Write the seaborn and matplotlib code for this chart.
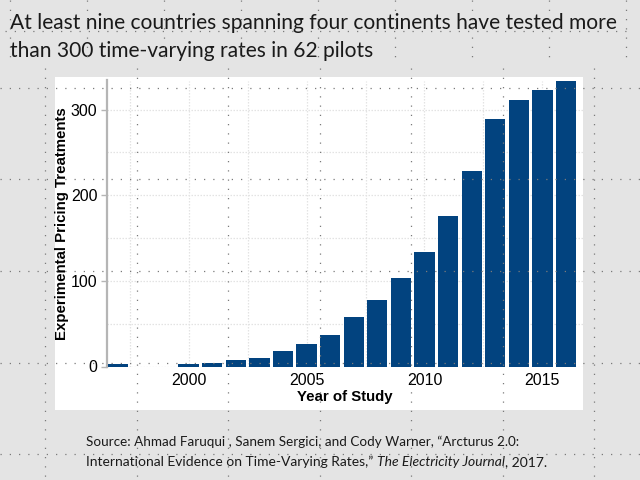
import numpy as np
import pandas as pd
import matplotlib
matplotlib.use("Agg")
import matplotlib.pyplot as plt
import seaborn as sns
from matplotlib.lines import Line2D
from matplotlib.patches import Rectangle
from matplotlib.ticker import MultipleLocator

# ---- data ----
years = [1997, 1998, 1999, 2000, 2001, 2002, 2003, 2004, 2005, 2006,
         2007, 2008, 2009, 2010, 2011, 2012, 2013, 2014, 2015, 2016]
treatments = [3, 0, 0, 3, 4, 8, 10, 18, 26, 37,
              58, 78, 103, 134, 176, 228, 289, 311, 323, 333]
x_ticks = [2000, 2005, 2010, 2015]
y_ticks = [0, 100, 200, 300]

title_line1 = "At least nine countries spanning four continents have tested more"
title_line2 = "than 300 time-varying rates in 62 pilots"
source_line1 = "Source: Ahmad Faruqui , Sanem Sergici, and Cody Warner, \u201cArcturus 2.0:"
source_line2_a = "International Evidence on Time-Varying Rates,\u201d "
source_line2_b = "The Electricity Journal"
source_line2_c = ", 2017."
x_label = "Year of Study"
y_label = "Experimental Pricing Treatments"

df = pd.DataFrame({"year": years, "n": treatments})

sns.set_theme(style="white")
plt.rcParams["font.family"] = ["Liberation Sans", "DejaVu Sans"]

W, H = 640, 480
fig = plt.figure(figsize=(6.4, 4.8), dpi=100)
fig.patch.set_facecolor("#e4e4e4")

def fx(px):
    return px / W

def fy(py):
    return 1 - py / H

# white chart panel
fig.patches.append(Rectangle((fx(55), fy(410)), fx(583) - fx(55), fy(77) - fy(410),
                             transform=fig.transFigure, facecolor="white",
                             edgecolor="none", zorder=-5))

ax = fig.add_axes([fx(107), fy(366.5), fx(583) - fx(107), fy(80.5) - fy(366.5)])
ax.set_facecolor("white")

sns.barplot(data=df, x="year", y="n", native_scale=True, width=0.86,
            color="#02437f", saturation=1, ax=ax, zorder=3, linewidth=0)

ax.set_xlim(1996.54, 2016.72)
ax.set_ylim(0, 334)
ax.set_xticks(x_ticks)
ax.set_yticks(y_ticks)
ax.xaxis.set_minor_locator(MultipleLocator(2.5))
ax.yaxis.set_minor_locator(MultipleLocator(50))
ax.grid(which="both", color="#e3e3e3", linewidth=0.9, linestyle=(0, (1.2, 1.2)), zorder=0)
ax.set_axisbelow(True)

for s in ["top", "right", "bottom"]:
    ax.spines[s].set_visible(False)
ax.spines["left"].set_color("#b5b5b5")
ax.spines["left"].set_linewidth(1.6)

ax.tick_params(axis="y", which="major", left=True, length=4, width=1, color="#b5b5b5",
               labelsize=11.5, pad=3, labelcolor="black")
ax.tick_params(axis="x", which="major", bottom=False, length=0, labelsize=11.5, pad=5,
               labelcolor="black")
ax.tick_params(which="minor", length=0)
ax.set_xlabel(x_label, fontsize=10.8, fontweight="bold", labelpad=1, color="black")
ax.set_ylabel(y_label, fontsize=10.8, fontweight="bold", labelpad=1.5, color="black")

# title and source
tfam = ["Lato", "DejaVu Sans"]
fig.text(fx(10), fy(29), title_line1, fontsize=15.1, family=tfam,
         color="#1a1a1a", ha="left", va="baseline")
fig.text(fx(10), fy(57), title_line2, fontsize=15.1, family=tfam,
         color="#1a1a1a", ha="left", va="baseline")
fig.text(fx(86), fy(446.5), source_line1, fontsize=9.7, family=tfam,
         color="#1a1a1a", ha="left", va="baseline")

fig.canvas.draw()
renderer = fig.canvas.get_renderer()
xpos = fx(86)
for txt, style in [(source_line2_a, "normal"), (source_line2_b, "italic"), (source_line2_c, "normal")]:
    t = fig.text(xpos, fy(466), txt, fontsize=10.0, family=tfam,
                 style=style, color="#1a1a1a", ha="left", va="baseline")
    bb = t.get_window_extent(renderer)
    xpos = bb.x1 / fig.bbox.width

# slide guide dots
dot_kw = dict(transform=fig.transFigure, color="#7a7a7a", linewidth=0.9,
              dashes=(1, 6.4), zorder=20)
for yy in [87.5, 179, 271, 362.5, 454]:
    fig.add_artist(Line2D([0, 1], [fy(yy), fy(yy)], **dot_kw))
for xx in [45, 137, 228, 320, 411, 503, 594]:
    fig.add_artist(Line2D([fx(xx), fx(xx)], [fy(68), 0], **dot_kw))
fig.add_artist(Line2D([fx(5), fx(628)], [fy(31), fy(31)], **dot_kw))
for xx in [10 + 77 * k for k in range(9)]:
    fig.add_artist(Line2D([fx(xx), fx(xx)], [1, fy(63)], **dot_kw))

fig.savefig("out.png", dpi=100, facecolor=fig.get_facecolor())
